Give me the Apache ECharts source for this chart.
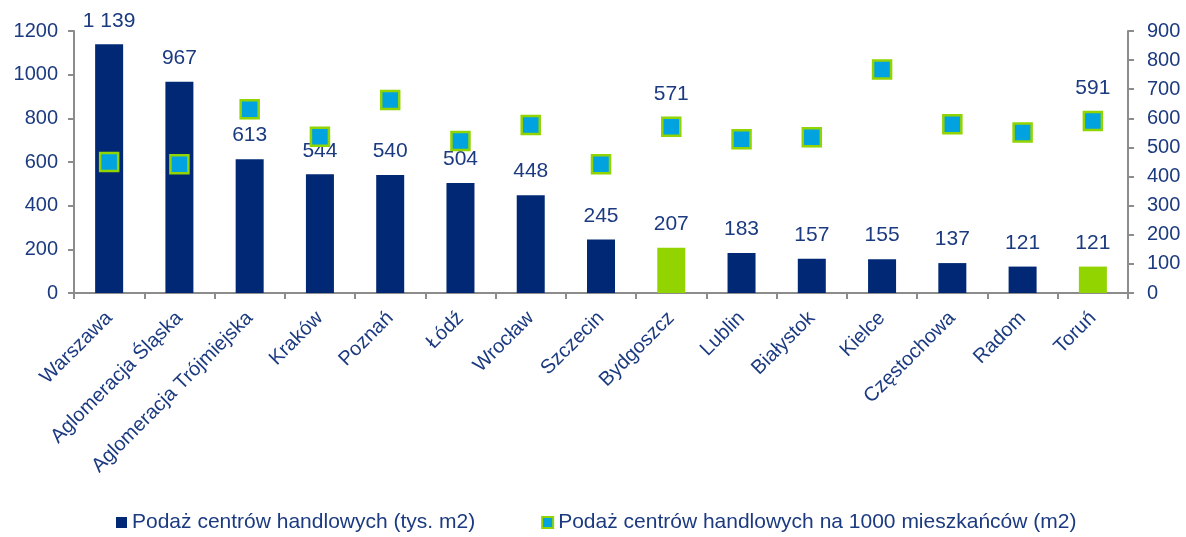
<!DOCTYPE html>
<html>
<head>
<meta charset="utf-8">
<script src="https://cdn.jsdelivr.net/npm/echarts@6/dist/echarts.min.js"></script>
<style>
  html, body { margin: 0; padding: 0; background: #fff; }
  #main { width: 1186px; height: 537px; }
</style>
</head>
<body>
<div id="main"></div>
<script>
var cities = ['Warszawa', 'Aglomeracja Śląska', 'Aglomeracja Trójmiejska', 'Kraków', 'Poznań', 'Łódź',
  'Wrocław', 'Szczecin', 'Bydgoszcz', 'Lublin', 'Białystok', 'Kielce', 'Częstochowa', 'Radom', 'Toruń'];
// Podaż centrów handlowych (tys. m2)
var supply = [1139, 967, 613, 544, 540, 504, 448, 245, 207, 183, 157, 155, 137, 121, 121];
// Podaż na 1000 mieszkańców (m2)
var perCapita = [450, 442, 631, 537, 663, 522, 577, 442, 571, 528, 535, 768, 580, 551, 591];
var highlighted = ['Bydgoszcz', 'Toruń'];

var textColor = '#1b3a80';
var navy = '#002874';
var green = '#92d400';
var cyan = '#00a3e0';

function spaced(v) {
  return String(v).replace(/\B(?=(\d{3})+(?!\d))/g, ' ');
}
function plain(v) {
  return String(v);
}

var barData = supply.map(function (v, i) {
  return {
    value: v,
    itemStyle: { color: highlighted.indexOf(cities[i]) >= 0 ? green : navy }
  };
});
var scatterData = perCapita.map(function (v, i) {
  return {
    value: v,
    label: { show: highlighted.indexOf(cities[i]) >= 0 }
  };
});

var chart = echarts.init(document.getElementById('main'));
chart.setOption({
  animation: false,
  textStyle: { fontFamily: 'Liberation Sans, Arial, sans-serif' },
  grid: { left: 74, right: 58, top: 31, bottom: 244 },
  legend: {
    top: 512,
    left: 116,
    padding: 0,
    itemWidth: 11,
    itemHeight: 11,
    itemGap: 66,
    textStyle: { color: textColor, fontSize: 21 },
    data: [
      { name: 'Podaż centrów handlowych (tys. m2)', icon: 'rect', itemStyle: { color: navy } },
      { name: 'Podaż centrów handlowych na 1000 mieszkańców (m2)', icon: 'rect',
        itemStyle: { color: cyan, borderColor: green, borderWidth: 2 } }
    ]
  },
  xAxis: {
    type: 'category',
    data: cities,
    axisLine: { lineStyle: { color: '#8c8c8c', width: 2 } },
    axisTick: { show: true, length: 6, lineStyle: { color: '#8c8c8c', width: 2 } },
    axisLabel: { color: textColor, fontSize: 20, rotate: 45, interval: 0, margin: 22 }
  },
  yAxis: [{
    type: 'value',
    min: 0, max: 1200, interval: 200,
    splitLine: { show: false },
    axisLine: { show: true, lineStyle: { color: '#8c8c8c', width: 2 } },
    axisTick: { show: true, length: 6, lineStyle: { color: '#8c8c8c', width: 2 } },
    axisLabel: { color: textColor, fontSize: 20, margin: 16, formatter: plain }
  }, {
    type: 'value',
    min: 0, max: 900, interval: 100,
    splitLine: { show: false },
    axisLine: { show: true, lineStyle: { color: '#8c8c8c', width: 2 } },
    axisTick: { show: true, length: 6, lineStyle: { color: '#8c8c8c', width: 2 } },
    axisLabel: { color: textColor, fontSize: 20, margin: 19, formatter: plain }
  }],
  series: [{
    name: 'Podaż centrów handlowych (tys. m2)',
    type: 'bar',
    data: barData,
    barWidth: 28,
    label: {
      show: true,
      position: 'top',
      distance: 13,
      color: textColor,
      fontSize: 21,
      formatter: function (p) { return spaced(p.value); }
    }
  }, {
    name: 'Podaż centrów handlowych na 1000 mieszkańców (m2)',
    type: 'scatter',
    yAxisIndex: 1,
    data: scatterData,
    symbol: 'rect',
    symbolSize: 18,
    itemStyle: { color: cyan, borderColor: green, borderWidth: 2.5, opacity: 1 },
    label: {
      position: 'top',
      distance: 12,
      color: textColor,
      fontSize: 21
    },
    z: 3
  }]
});
</script>
</body>
</html>
